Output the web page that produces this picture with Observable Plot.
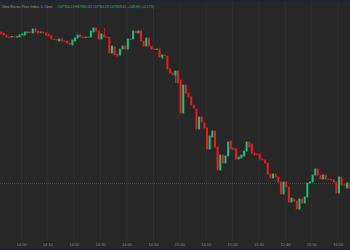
<!DOCTYPE html>
<html>
<head>
<meta charset="utf-8">
<script src="https://cdn.jsdelivr.net/npm/d3@7"></script>
<script src="https://cdn.jsdelivr.net/npm/@observablehq/plot@0.6"></script>
<style>
  html, body { margin: 0; padding: 0; background: #272727; overflow: hidden; }
  #chart { width: 350px; border-top: 2px solid #1d2433; border-bottom: 2px solid #1d2433; background: #272727; }
  svg { display: block; }
</style>
</head>
<body>
<div id="chart"></div>
<script>
// ---- data (1-minute candles, first candle opens 13:52) ----
const firstCandle = "13:52";
const opens = [
  69044, 69036, 69020, 69004, 69004, 69008, 69004, 69004, 69020, 69020,
  69040, 69044, 69036, 69068, 69052, 69040, 69044, 69036, 69028, 69012,
  68988, 68984, 68972, 68988, 68972, 68972, 68956, 68940, 68972, 68996,
  69020, 69004, 69000, 69004, 69004, 69044, 69076, 69052, 68988, 69020,
  69004, 69004, 68876, 68924, 68868, 68860, 68908, 68932, 68908, 68988,
  68988, 69052, 69036, 69052, 68972, 68932, 68996, 68932, 68908, 68904,
  68908, 68844, 68860, 68852, 68748, 68716, 68700, 68732, 68660, 68396,
  68620, 68556, 68524, 68460, 68428, 68268, 68364, 68316, 68276, 68108,
  68204, 68252, 68124, 67940, 68060, 67996, 68052, 68172, 68116, 68108,
  68028, 68036, 68052, 68092, 68164, 68148, 68076, 68068, 68068, 68028,
  68020, 67996, 67908, 67876, 67908, 67884, 67844, 67748, 67844, 67804,
  67684, 67708, 67692, 67628, 67708, 67676, 67724, 67836, 67844, 67900,
  67948, 67900, 67868, 67900, 67868, 67864, 67860, 67844, 67756, 67884,
  67820, 67796, 67836
];
const closes = [
  69028, 69020, 69004, 69000, 69008, 69004, 69008, 69020, 69028, 69044,
  69044, 69040, 69068, 69044, 69036, 69044, 69036, 69020, 69012, 68988,
  68984, 68980, 68988, 68972, 68968, 68956, 68948, 68980, 68996, 69020,
  69004, 69000, 69004, 69000, 69052, 69076, 69052, 68988, 69028, 69004,
  69000, 68876, 68932, 68860, 68852, 68908, 68932, 68908, 68988, 68984,
  69052, 69036, 69052, 68972, 68932, 68996, 68932, 68908, 68904, 68908,
  68844, 68860, 68856, 68748, 68716, 68700, 68732, 68636, 68396, 68620,
  68556, 68524, 68460, 68436, 68268, 68364, 68324, 68276, 68108, 68212,
  68252, 68124, 67940, 68060, 67996, 68052, 68164, 68108, 68104, 68028,
  68044, 68060, 68092, 68164, 68124, 68076, 68060, 68064, 68028, 68020,
  67996, 67908, 67876, 67908, 67884, 67844, 67748, 67844, 67804, 67684,
  67716, 67692, 67628, 67708, 67676, 67724, 67836, 67844, 67900, 67948,
  67900, 67868, 67900, 67868, 67864, 67860, 67844, 67756, 67884, 67820,
  67816, 67836, 67796
];
// visible wicks beyond the bodies
const wickTimes = ["14:31", "14:53", "14:58"];
const wickHighs = [69076, 68860, 68732];
const wickLows  = [69004, 68828, 68636];

const lastPrice = 67836;
const tickLabels = ["14:00","14:10","14:20","14:30","14:40","14:50","15:00","15:10","15:20","15:30","15:40","15:50","16:00"];
const titleName = "Cboe Bitcoin Price Index, 1, Cboe";
const titleValues = "O67764.23 H67880.32 L67764.23 C67808.32 +108.88 (+0.17%)";

// ---- build ----
const day = "2024-05-01T";
const toDate = s => new Date(day + s + ":00Z");
const MIN = 60000;
const t0 = toDate(firstCandle).getTime();
const candles = opens.map((o, i) => ({ t: t0 + i * MIN, o, c: closes[i] }));
const wicks = wickTimes.map((s, i) => ({ t: toDate(s).getTime(), high: wickHighs[i], low: wickLows[i] }));
wicks.forEach(w => { const cd = candles.find(c => c.t === w.t); w.up = cd ? cd.c >= cd.o : true; });
const ticks = tickLabels.map(toDate);
const GREEN = "#14c47c", RED = "#ee1b1b";
const base = toDate("14:00").getTime();

const chart = Plot.plot({
  width: 350,
  height: 246,
  marginTop: 0, marginLeft: 0, marginRight: 0, marginBottom: 8,
  style: { background: "#272727", color: "#8a8a8a", fontFamily: "'Liberation Sans', Arial, sans-serif", fontSize: "4px" },
  x: { type: "utc", domain: [new Date(base - 7.917 * MIN), new Date(base + 124.66 * MIN)] },
  y: { domain: [67380, 69284], axis: null },
  color: { type: "identity" },
  marks: [
    Plot.gridX(ticks, { stroke: "#3a3a3a", strokeOpacity: 0.45 }),
    Plot.ruleY([lastPrice], { stroke: "#2f6a4b", strokeOpacity: 0.8, strokeDasharray: "1,1" }),
    Plot.ruleX(wicks, { x: d => new Date(d.t + 0.5 * MIN), y1: "low", y2: "high", stroke: d => d.up ? GREEN : RED, strokeWidth: 0.8 }),
    Plot.rect(candles, {
      x1: d => new Date(d.t + 0.12 * MIN), x2: d => new Date(d.t + 0.88 * MIN),
      y1: "o", y2: "c", fill: d => d.c >= d.o ? GREEN : RED,
      insetTop: -0.4, insetBottom: -0.4
    }),
    Plot.axisX(ticks, { tickSize: 0, tickPadding: 2.5, tickFormat: d3.utcFormat("%H:%M"), label: null, fill: "#8a8a8a", fontSize: 4 }),
    Plot.text([titleName], { frameAnchor: "top-left", dx: 1, dy: 4, fill: "#9a9a9a", fontSize: 3.4, textAnchor: "start", lineAnchor: "middle" }),
    Plot.text([titleValues], { frameAnchor: "top-left", dx: 57, dy: 4, fill: "#22b874", fontSize: 3.4, textAnchor: "start", lineAnchor: "middle" })
  ]
});
document.getElementById("chart").appendChild(chart);
</script>
</body>
</html>
